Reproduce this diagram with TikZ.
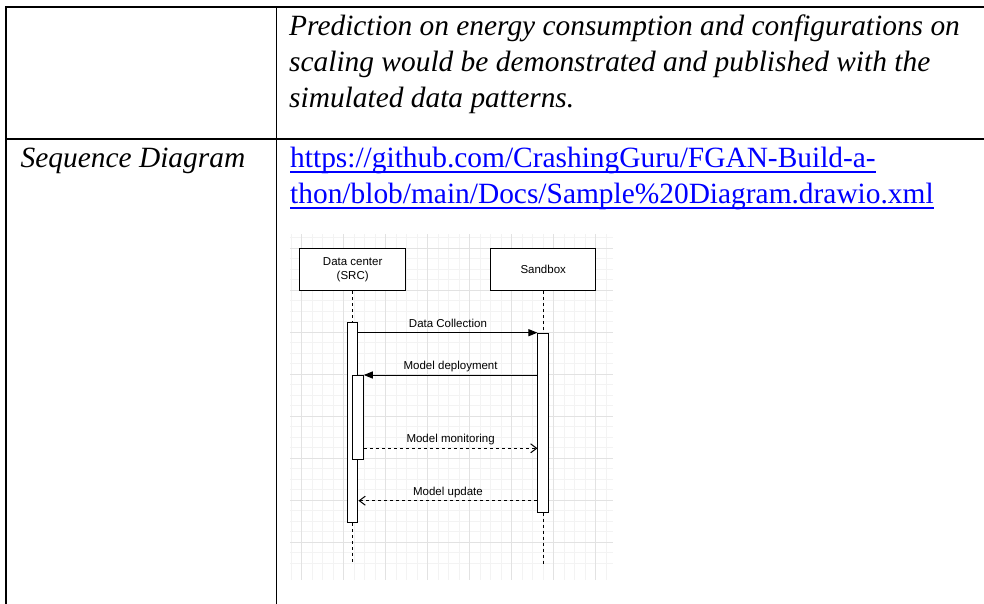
\documentclass[tikz,border=0pt]{standalone}
\usepackage{fontspec}
\setmainfont{Liberation Serif}
\newfontfamily\diagfont{Liberation Sans}
\usetikzlibrary{arrows.meta,positioning}
\definecolor{linkblue}{RGB}{0,0,255}
\definecolor{gridlight}{HTML}{F3F3F3}
\definecolor{griddark}{HTML}{E2E2E2}
\begin{document}
\begin{tikzpicture} [x=1pt, y=-1pt, node distance=84pt,
    rule/.style={line width=1.8pt},
    cell/.style={inner sep=0pt, anchor=base west, font=\fontsize{29.4}{35.6}\selectfont},
    gridminor/.style={draw=gridlight, line width=0.7pt},
    gridmajor/.style={draw=griddark, line width=0.7pt},
    actor/.style={draw, fill=white, line width=1pt, minimum width=105.5pt, minimum height=42pt,
        align=center, font=\diagfont\fontsize{11.5}{13.5}\selectfont},
    bar/.style={draw, fill=white, line width=1pt, minimum width=10.5pt, inner sep=0pt, anchor=north},
    life/.style={line width=1pt, dash pattern=on 3pt off 3pt},
    call/.style={line width=1pt, -{Triangle[length=9pt,width=7pt]}},
    reply/.style={line width=1pt, dash pattern=on 3pt off 3pt, -{Straight Barb[length=6pt,width=9pt]}},
    msglabel/.style={font=\diagfont\fontsize{11.5}{13.5}\selectfont, text height=1.5ex, text depth=.25ex,
        inner sep=0pt, above=4pt}]
    \useasboundingbox (0,0) rectangle (984,604);
    % table rules
    \draw[rule] (984,7) -- (6,7) -- (6,604);
    \draw[rule] (6,139) -- (984,139);
    \draw[rule] (276.5,7) -- (276.5,604);
    % cell texts
    \node[cell] (pred1) at (289,36) {\itshape Prediction on energy consumption and configurations on};
    \node[cell] (pred2) at (289,71.6) {\itshape scaling would be demonstrated and published with the};
    \node[cell] (pred3) at (289,107.2) {\itshape simulated data patterns.};
    \node[cell] (seq) at (20.5,167.7) {\itshape Sequence Diagram};
    \node[cell, text=linkblue] (url1) at (290,167.7) {https://github.com/CrashingGuru/FGAN-Build-a-};
    \node[cell, text=linkblue] (url2) at (290,203.3) {thon/blob/main/Docs/Sample\%20Diagram.drawio.xml};
    \draw[linkblue, line width=1.5pt] ([yshift=-4.5pt]url1.base west) -- ([yshift=-4.5pt]url1.base east);
    \draw[linkblue, line width=1.5pt] ([yshift=-4.5pt]url2.base west) -- ([yshift=-4.5pt]url2.base east);
    % grid behind the sequence diagram
    \begin{scope}
      \clip (290,234) rectangle (613,580);
      \foreach \k in {-1,...,30} {
        \draw[gridminor] (301.7+10.5*\k,234) -- (301.7+10.5*\k,580);
        \draw[gridminor] (290,248.3+10.5*\k) -- (613,248.3+10.5*\k);
      }
      \foreach \k in {0,...,7} {
        \draw[gridmajor] (301.7+42*\k,234) -- (301.7+42*\k,580);
        \draw[gridmajor] (290,248.3+42*\k) -- (613,248.3+42*\k);
      }
    \end{scope}
    % message rows
    \coordinate (start) at (0,321.7);
    \coordinate (collect) at (0,332.7);
    \coordinate (deploy) at (0,375);
    \coordinate (monitor) at (0,448.3);
    \coordinate (update) at (0,500.7);
    \coordinate (stop) at (0,565);
    % place nodes
    \node[actor] (dc) at (352.7,269.5) {Data center\\(SRC)};
    \node[actor, right=of dc] (sandbox) {Sandbox};
    \node[bar, minimum height=200.6pt] (dcbar) at (dc.south |- start) {};
    \node[bar, minimum height=179pt] (sbbar) at (sandbox.south |- collect) {};
    \node[bar, minimum height=84pt, xshift=5.3pt] (nestbar) at (dc.south |- deploy) {};
    % draw lifelines
    \draw[life] (dc) -- (dcbar);
    \draw[life] (dcbar.south) -- (dcbar.south |- stop);
    \draw[life] (sandbox) -- (sbbar);
    \draw[life] (sbbar.south) -- (sbbar.south |- stop);
    % draw edges
    \draw[call] (dcbar.east |- collect) -- node[msglabel] (lblcollect) {Data Collection} (sbbar.north west);
    \draw[call] (sbbar.west |- deploy) -- node[msglabel] (lbldeploy) {Model deployment} (nestbar.north east);
    \draw[reply] (nestbar.east |- monitor) -- node[msglabel] (lblmonitor) {Model monitoring} (sbbar.west |- monitor);
    \draw[reply] (sbbar.west |- update) -- node[msglabel] (lblupdate) {Model update} (dcbar.east |- update);
  \end{tikzpicture}
\end{document}
